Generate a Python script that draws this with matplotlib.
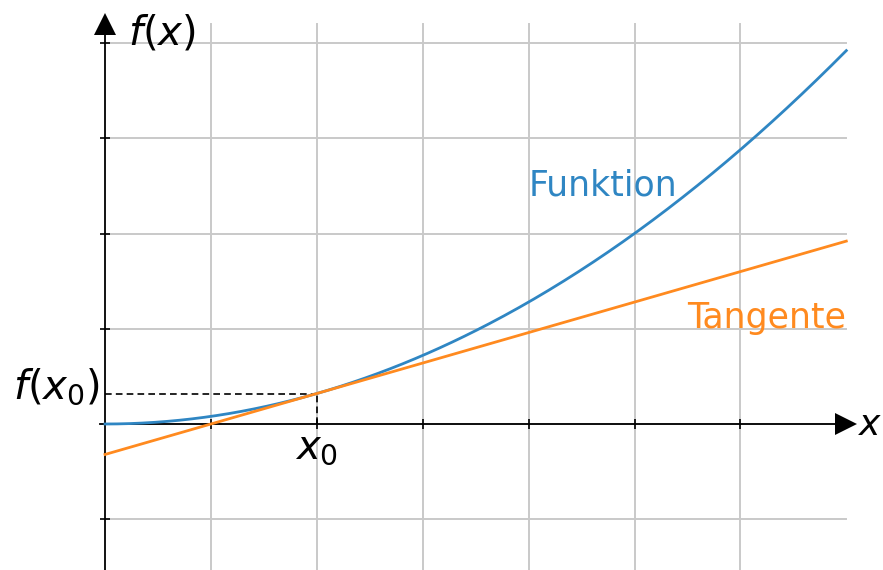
import numpy as np
import matplotlib
matplotlib.use('Agg')
import matplotlib.pyplot as plt

# f(x) = a * x^2, tangent at x0
a = 0.08
x0 = 2.0

x_ticks = [1, 2, 3, 4, 5, 6]
y_ticks = [-1, 1, 2, 3, 4]
x_grid = [1, 2, 3, 4, 5, 6]
y_grid = [-1, 0, 1, 2, 3, 4]

x_max = 7.0
y_top = 4.2

blue = '#2f86c3'
orange = '#ff8a1f'
grid_col = '#c9c9c9'

# pixel scale of the drawing
px_x = 105.9
px_y = 95.25
W, H = 883, 570
ox, oy = 105, 424

fig = plt.figure(figsize=(W / 100, H / 100), dpi=100)
ax = fig.add_axes([0, 0, 1, 1])
ax.set_xlim(-ox / px_x, (W - ox) / px_x)
y_bot = -(H - oy) / px_y
ax.set_ylim(y_bot, oy / px_y)
ax.axis('off')

# grid
for gx in x_grid:
    ax.plot([gx, gx], [y_bot, y_top], color=grid_col, lw=1.4, zorder=1)
for gy in y_grid:
    ax.plot([0, x_max], [gy, gy], color=grid_col, lw=1.4, zorder=1)

# axes with arrows
ax.plot([-0.05, x_max], [0, 0], color='black', lw=1.3, zorder=3)
ax.plot([0, 0], [y_bot, y_top], color='black', lw=1.3, zorder=3)
ax.plot(x_max, 0, marker='>', ms=16.5, mew=0, color='black', zorder=4)
ax.plot(0, y_top, marker='^', ms=16.5, mew=0, color='black', zorder=4)

# tick marks
ax.plot(x_ticks, [0] * len(x_ticks), ls='none', marker='|', ms=7.5,
        mew=1.2, color='black', zorder=3)
ax.plot([0] * len(y_ticks), y_ticks, ls='none', marker='_', ms=7.5,
        mew=1.2, color='black', zorder=3)

# function and tangent
xs = np.linspace(0, x_max, 300)
fx0 = a * x0 ** 2
slope = 2 * a * x0
ax.plot(xs, a * xs ** 2, color=blue, lw=2.0, zorder=5)
ax.plot([0, x_max], [fx0 - slope * x0, fx0 + slope * (x_max - x0)],
        color=orange, lw=2.0, zorder=5)

# helper lines to the point of contact
ax.plot([0, x0], [fx0, fx0], color='black', lw=1.2, ls=(0, (4, 2.5)), zorder=4)
ax.plot([x0, x0], [0, fx0], color='black', lw=1.2, ls=(0, (4, 2.5)), zorder=4)

fs = 25
ms = 29
ax.text(4.0, 2.404, 'Funktion', color=blue, fontsize=fs, ha='left', va='baseline')
ax.text(5.496, 1.008, 'Tangente', color=orange, fontsize=fs, ha='left', va='baseline')
ax.text(0.217, 3.98, r'$f(x)$', fontsize=ms, ha='left', va='baseline')
ax.text(7.11, -0.115, r'$x$', fontsize=26, ha='left', va='baseline')
ax.text(x0, -0.357, r'$x_0$', fontsize=ms, ha='center', va='baseline')
ax.text(-0.047, 0.273, r'$f(x_0)$', fontsize=ms, ha='right', va='baseline')

fig.savefig('out.png', dpi=100)
